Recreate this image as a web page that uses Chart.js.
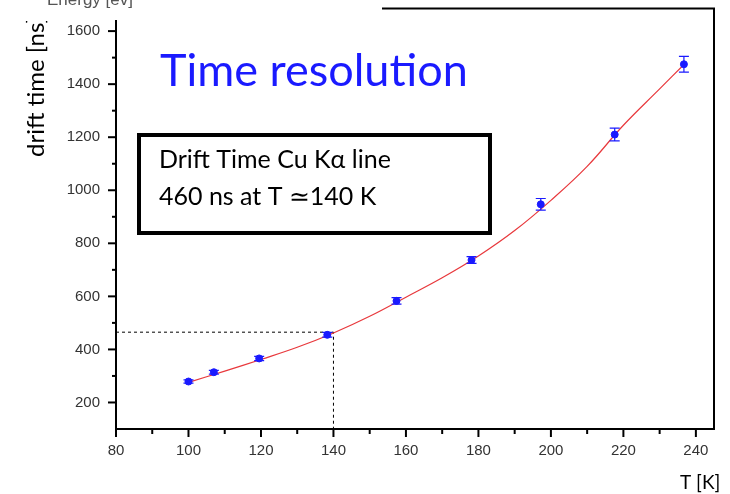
<!DOCTYPE html>
<html>
<head>
<meta charset="utf-8">
<script src="https://cdn.jsdelivr.net/npm/chart.js@4"></script>
<style>
  html, body { margin: 0; padding: 0; background: #fff; }
  #wrap { width: 730px; height: 494px; position: relative; }
</style>
</head>
<body>
<div id="wrap"><canvas id="chart" width="730" height="494"></canvas></div>
<script>
// measured drift times (T in K, drift time in ns)
const temps = [100, 107, 119.5, 138.3, 157.4, 178.1, 197.2, 217.6, 236.7];
const driftTimes = [279, 314, 366, 455, 583, 737, 947, 1210, 1475];
const driftErrors = [6, 7, 8, 9, 12, 13, 22, 24, 30];

// fitted curve
const fitT = [100, 110, 120, 130, 140, 150, 160, 170, 180, 190, 200, 210, 220, 230, 237];
const fitTime = [276, 318, 362, 408, 462, 525, 597, 670, 752, 848, 962, 1090, 1245, 1382, 1478];

// dashed guide: 460 ns at ~140 K
const guideT = [80, 140, 140];
const guideTime = [465, 465, 100];

const xTicks = [80, 100, 120, 140, 160, 180, 200, 220, 240];
const yTicks = [200, 400, 600, 800, 1000, 1200, 1400, 1600];
const frameTop = 1685; // value where the plot frame closes at the top

const blue = '#1a1aff';
const red = '#e8383c';
const labelFont = "'Liberation Sans', Arial, sans-serif";
const textFont = "Lato, 'Open Sans', sans-serif";

// frame, minor/major ticks, error bars and the slide text
const decorations = {
    id: 'decorations',
    afterDatasetsDraw(chart) {
        const { ctx, chartArea: a, scales: { x, y } } = chart;
        ctx.save();

        // error bars
        ctx.strokeStyle = blue;
        ctx.lineWidth = 1.2;
        temps.forEach((t, i) => {
            const px = x.getPixelForValue(t);
            const top = y.getPixelForValue(driftTimes[i] + driftErrors[i]);
            const bot = y.getPixelForValue(driftTimes[i] - driftErrors[i]);
            ctx.beginPath();
            ctx.moveTo(px, top); ctx.lineTo(px, bot);
            ctx.moveTo(px - 5, top); ctx.lineTo(px + 5, top);
            ctx.moveTo(px - 5, bot); ctx.lineTo(px + 5, bot);
            ctx.stroke();
        });

        // frame
        const topY = y.getPixelForValue(frameTop);
        ctx.strokeStyle = '#000';
        ctx.lineWidth = 2;
        ctx.beginPath();
        ctx.moveTo(a.left, 20);
        ctx.lineTo(a.left, a.bottom);
        ctx.lineTo(a.right, a.bottom);
        ctx.lineTo(a.right, topY);
        ctx.lineTo(382, topY);
        ctx.stroke();

        // x ticks (major every 20, minor every 10)
        for (let v = 80; v <= 240; v += 10) {
            const px = x.getPixelForValue(v);
            const len = v % 20 === 0 ? 8 : 5;
            ctx.beginPath();
            ctx.moveTo(px, a.bottom); ctx.lineTo(px, a.bottom + len);
            ctx.stroke();
        }
        // y ticks (major every 200, minor every 100)
        for (let v = 200; v <= 1600; v += 100) {
            const py = y.getPixelForValue(v);
            const len = v % 200 === 0 ? 8 : 4;
            ctx.beginPath();
            ctx.moveTo(a.left, py); ctx.lineTo(a.left - len, py);
            ctx.stroke();
        }

        // title
        ctx.fillStyle = blue;
        ctx.font = '45px ' + textFont;
        ctx.textBaseline = 'alphabetic';
        ctx.fillText('Time resolution', 160, 86);

        // annotation box
        ctx.fillStyle = '#fff';
        ctx.fillRect(139, 135, 351, 98);
        ctx.strokeStyle = '#000';
        ctx.lineWidth = 4;
        ctx.strokeRect(139, 135, 351, 98);
        ctx.fillStyle = '#000';
        ctx.font = '25px ' + textFont;
        ctx.fillText('Drift Time Cu K\u03b1 line', 159, 168);
        ctx.fillText('460 ns at T \u2243140 K', 159, 205);

        // axis titles
        ctx.font = '19px ' + textFont;
        ctx.fillText('T [K]', 680, 489);

        ctx.save();
        ctx.beginPath();
        ctx.rect(0, 21, 110, 494);
        ctx.clip();
        ctx.translate(44, 157);
        ctx.rotate(-Math.PI / 2);
        ctx.font = '24px ' + textFont;
        ctx.fillText('drift time [ns]', 0, 0);
        ctx.restore();

        ctx.fillStyle = '#555';
        ctx.font = '17px ' + labelFont;
        ctx.fillText('Energy [ev]', 47, 5);

        ctx.restore();
    }
};

new Chart(document.getElementById('chart'), {
    type: 'scatter',
    data: {
        datasets: [{
            label: 'fit',
            type: 'line',
            data: fitT.map((t, i) => ({ x: t, y: fitTime[i] })),
            borderColor: red,
            borderWidth: 1.2,
            pointRadius: 0,
            tension: 0.4,
            order: 2
        }, {
            label: 'guide',
            type: 'line',
            data: guideT.map((t, i) => ({ x: t, y: guideTime[i] })),
            borderColor: '#000',
            borderWidth: 1,
            borderDash: [3, 3],
            pointRadius: 0,
            tension: 0,
            order: 3
        }, {
            label: 'data',
            data: temps.map((t, i) => ({ x: t, y: driftTimes[i] })),
            backgroundColor: blue,
            borderColor: blue,
            pointRadius: 3.5,
            order: 1
        }]
    },
    options: {
        responsive: false,
        animation: false,
        layout: { autoPadding: false, padding: { top: 8, right: 16, left: 0, bottom: 0 } },
        plugins: { legend: { display: false }, tooltip: { enabled: false } },
        scales: {
            x: {
                type: 'linear',
                min: 80,
                max: 245,
                afterBuildTicks: s => { s.ticks = xTicks.map(v => ({ value: v })); },
                afterFit: s => { s.height = 65; },
                border: { display: false },
                grid: { display: false, drawTicks: false },
                ticks: {
                    padding: 13,
                    color: '#333',
                    font: { family: labelFont, size: 15 },
                    callback: v => String(v)
                }
            },
            y: {
                min: 100,
                max: 1623,
                afterBuildTicks: s => { s.ticks = yTicks.map(v => ({ value: v })); },
                afterFit: s => { s.width = 116; },
                border: { display: false },
                grid: { display: false, drawTicks: false },
                ticks: {
                    padding: 16,
                    color: '#333',
                    font: { family: labelFont, size: 15 },
                    callback: v => String(v)
                }
            }
        }
    },
    plugins: [decorations]
});
</script>
</body>
</html>
